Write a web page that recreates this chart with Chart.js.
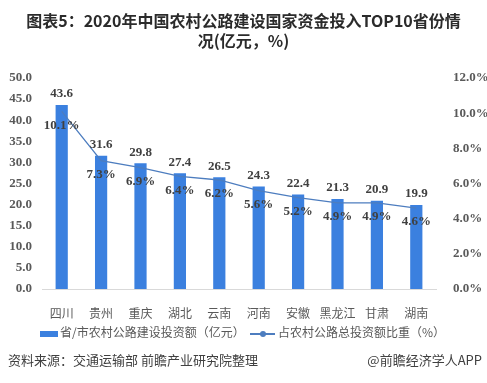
<!DOCTYPE html>
<html>
<head>
<meta charset="utf-8">
<script src="https://cdn.jsdelivr.net/npm/chart.js@4.4.0/dist/chart.umd.min.js"></script>
<style>
html,body{margin:0;padding:0;background:#fff;}
#wrap{position:relative;width:487px;height:383px;overflow:hidden;}
#c{position:absolute;left:0;top:0;}
.title{position:absolute;left:0;width:487px;text-align:center;font-family:"Noto Sans CJK SC","Liberation Sans",sans-serif;font-weight:bold;font-size:16px;color:#2b2b2b;white-space:nowrap;line-height:20px;}
.legend{position:absolute;top:323px;font-family:"Noto Sans CJK SC",sans-serif;font-size:12px;color:#595959;white-space:nowrap;line-height:18px;}
.foot{position:absolute;top:351px;font-family:"Noto Sans CJK SC",sans-serif;font-size:13px;color:#404040;white-space:nowrap;line-height:18px;}
</style>
</head>
<body>
<div id="wrap">
<canvas id="c" width="487" height="383"></canvas>
<div class="title" style="top:10px;">图表5：2020年中国农村公路建设国家资金投入TOP10省份情</div>
<div class="title" style="top:30px;">况(亿元，%)</div>
<div class="legend" style="left:40px;"><span style="display:inline-block;width:18px;height:6px;background:#3b80df;vertical-align:middle;margin-right:2px;"></span>省/市农村公路建设投资额（亿元）</div>
<div class="legend" style="left:250px;"><span style="display:inline-block;position:relative;width:25px;height:10px;vertical-align:middle;margin-right:3px;"><span style="position:absolute;left:0;top:4px;width:25px;height:2px;background:#4d7dbf;"></span><span style="position:absolute;left:10px;top:2px;width:6px;height:6px;border-radius:3px;background:#4d7dbf;"></span></span>占农村公路总投资额比重（%）</div>
<div class="foot" style="left:8px;">资料来源：交通运输部 前瞻产业研究院整理</div>
<div class="foot" style="right:5px;">@前瞻经济学人APP</div>
</div>
<script>
const categories = ['四川','贵州','重庆','湖北','云南','河南','安徽','黑龙江','甘肃','湖南'];
const investment = [43.6,31.6,29.8,27.4,26.5,24.3,22.4,21.3,20.9,19.9];
const share = [10.1,7.3,6.9,6.4,6.2,5.6,5.2,4.9,4.9,4.6];
const leftTicks = [0,5,10,15,20,25,30,35,40,45,50];
const rightTicks = [0,2,4,6,8,10,12];

const serif = '"Liberation Serif","DejaVu Serif",serif';

const labelPlugin = {
  id: 'labels',
  afterDatasetsDraw(chart) {
    const ctx = chart.ctx;
    ctx.save();
    ctx.textAlign = 'center';
    ctx.textBaseline = 'middle';
    ctx.fillStyle = '#404040';
    ctx.font = 'bold 13px ' + serif;
    chart.getDatasetMeta(0).data.forEach((el, i) => {
      ctx.fillText(investment[i].toFixed(1), el.x, el.y - 11);
    });
    ctx.font = 'bold 13px ' + serif;
    chart.getDatasetMeta(1).data.forEach((el, i) => {
      ctx.fillText(share[i].toFixed(1) + '%', el.x, el.y + 14);
    });
    ctx.restore();
  }
};

new Chart(document.getElementById('c'), {
  type: 'bar',
  data: {
    labels: categories,
    datasets: [
      {
        type: 'bar',
        label: '省/市农村公路建设投资额（亿元）',
        data: investment,
        backgroundColor: '#3b80df',
        yAxisID: 'y',
        barPercentage: 0.31,
        categoryPercentage: 1.0,
        order: 2
      },
      {
        type: 'line',
        label: '占农村公路总投资额比重（%）',
        data: share,
        borderColor: '#4d7dbf',
        backgroundColor: '#4d7dbf',
        borderWidth: 1.3,
        pointRadius: 0,
        tension: 0,
        yAxisID: 'y1',
        order: 1
      }
    ]
  },
  options: {
    responsive: false,
    animation: false,
    devicePixelRatio: 1,
    layout: { padding: { top: 78, bottom: 64, left: 0, right: 0 } },
    plugins: { legend: { display: false }, tooltip: { enabled: false }, title: { display: false } },
    scales: {
      x: {
        grid: { display: false },
        border: { display: true, color: '#d9d9d9', width: 1 },
        ticks: { color: '#595959', font: { family: '"Noto Sans CJK SC",sans-serif', size: 12 }, padding: 9, maxRotation: 0, autoSkip: false },
        afterFit(s) { s.height = 30; }
      },
      y: {
        position: 'left',
        min: 0, max: 50,
        afterBuildTicks(s) { s.ticks = leftTicks.map(v => ({ value: v })); },
        grid: { display: false },
        border: { display: false },
        ticks: { color: '#595959', font: { family: serif, size: 13, weight: 'bold' }, padding: 2, callback: v => Number(v).toFixed(1) },
        afterFit(s) { s.width = 42; }
      },
      y1: {
        position: 'right',
        min: 0, max: 12,
        afterBuildTicks(s) { s.ticks = rightTicks.map(v => ({ value: v })); },
        grid: { display: false },
        border: { display: false },
        ticks: { color: '#595959', font: { family: serif, size: 13, weight: 'bold' }, padding: 9, callback: v => Number(v).toFixed(1) + '%' },
        afterFit(s) { s.width = 51; }
      }
    }
  },
  plugins: [labelPlugin]
});
</script>
</body>
</html>
